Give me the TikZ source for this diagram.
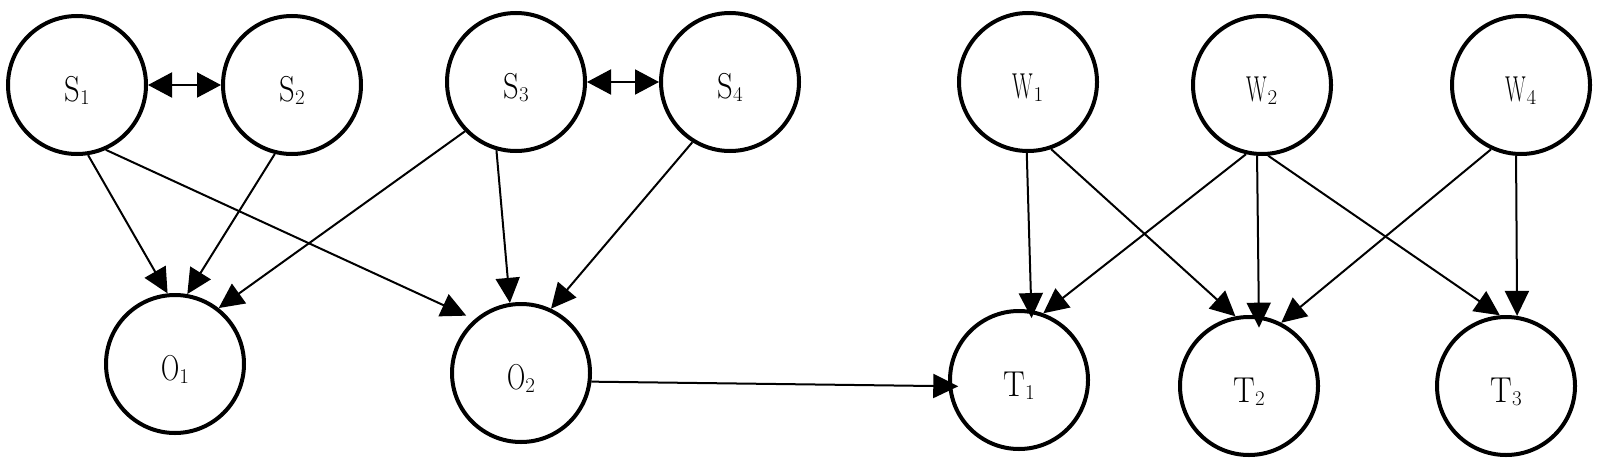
\documentclass[tikz,border=0pt]{standalone}
\usepackage{graphicx}
\usetikzlibrary{arrows.meta}
\newcommand{\lbl}[3]{\raisebox{-5.5pt}[\height][\depth]{\fontsize{36}{40}\selectfont\scalebox{#1}[1]{#2}\lower3pt\hbox{\fontsize{21}{24}\selectfont #3}}}
\begin{document}
\begin{tikzpicture}[x=1pt,y=-1pt,
  vnode/.style={circle,draw,line width=4pt,minimum size=138pt,inner sep=0pt},
  arr/.style={-{Triangle[length=25pt,width=24pt]},line width=2pt},
  dbl/.style={{Triangle[length=24pt,width=25pt]}-{Triangle[length=24pt,width=25pt]},line width=2pt}]
\useasboundingbox (0,0) rectangle (1600,463);
% top row
\node[vnode] (S1) at (77,85)   {\lbl{0.85}{S}{1}};
\node[vnode] (S2) at (292,85)  {\lbl{0.85}{S}{2}};
\node[vnode] (S3) at (516,82)  {\lbl{0.85}{S}{3}};
\node[vnode] (S4) at (730,82)  {\lbl{0.85}{S}{4}};
\node[vnode] (W1) at (1028,82) {\lbl{0.6}{W}{1}};
\node[vnode] (W2) at (1262,85) {\lbl{0.6}{W}{2}};
\node[vnode] (W4) at (1521,85) {\lbl{0.6}{W}{4}};
% bottom row
\node[vnode] (O1) at (175,364)  {\lbl{0.7}{O}{1}};
\node[vnode] (O2) at (521,373)  {\lbl{0.7}{O}{2}};
\node[vnode] (T1) at (1019,380) {\lbl{0.9}{T}{1}};
\node[vnode] (T2) at (1249,386) {\lbl{0.9}{T}{2}};
\node[vnode] (T3) at (1506,386) {\lbl{0.9}{T}{3}};
% bidirectional
\draw[dbl] (S1.east) -- (S2.west);
\draw[dbl] (S3.east) -- (S4.west);
% S -> O
\draw[arr] (S1.-81) -- (O1.96);
\draw[arr] (S2.-104) -- (O1.80);
\draw[arr] (S3.-136) -- (O1.52);
\draw[arr,shorten >=9pt] (S1.-66) -- (O2.131);
\draw[arr] (S3.-106) -- (O2.99);
\draw[arr] (S4.-122) -- (O2.65);
% O2 -> T1
\draw[arr,shorten >=-10pt] (O2.-7) -- (T1.185);
% W -> T
\draw[arr,shorten >=-8pt] (W1.-91) -- (T1.80);
\draw[arr] (W1.-71) -- (T2.101);
\draw[arr] (W2.-103) -- (T1.70);
\draw[arr,shorten >=-12pt] (W2.-94) -- (T2.82);
\draw[arr] (W2.-85) -- (T3.95);
\draw[arr] (W4.-115) -- (T2.63);
\draw[arr] (W4.-94) -- (T3.81);
\end{tikzpicture}
\end{document}
